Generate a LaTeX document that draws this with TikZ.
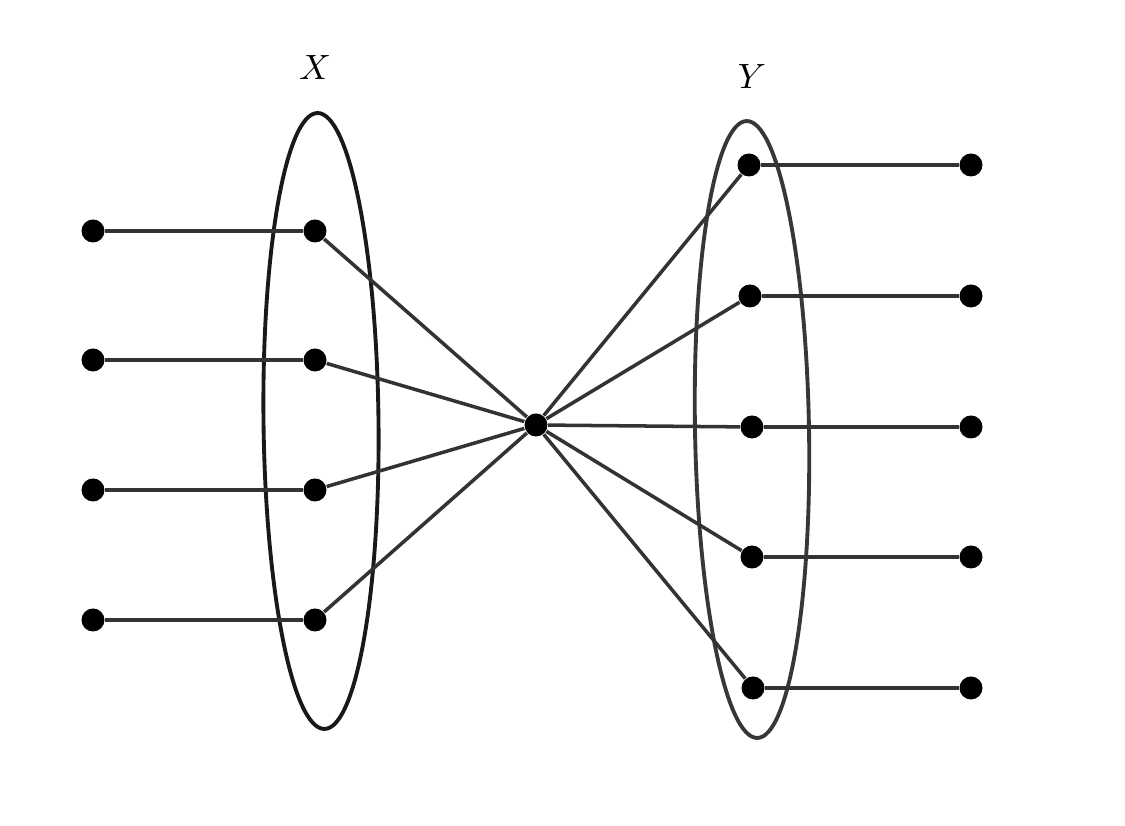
\documentclass[tikz,border=0pt]{standalone}
\usetikzlibrary{positioning,calc}
\definecolor{edgeC}{RGB}{51,51,51}
\definecolor{setXC}{RGB}{25,25,25}
\definecolor{setYC}{RGB}{55,55,55}
\tikzset{
	dot/.style={circle, fill=black, inner sep=0pt, minimum size=0.23cm},
	link/.style={draw=edgeC, line width=1pt},
	setring/.style={line width=1.1pt},
	setname/.style={font=\normalsize},
}

\begin{document}
\begin{tikzpicture}
		\useasboundingbox (0,0) rectangle (11.25,8.26);
		
		% ================= Sets =================
		\draw[setring, setXC] (3.21,4.05) ellipse[x radius=0.575, y radius=3.08, rotate=0.65];
		\draw[setring, setYC] (7.52,3.965) ellipse[x radius=0.57, y radius=3.085, rotate=1];
		\node[setname] (labX) at (3.15,7.58) {$X$};
		\node[setname] (labY) at (7.52,7.49) {$Y$};
		
		% ================= Centre =================
		\node[dot] (c) at (5.36,4.01) {};
		
		% ================= Left side =================
		\foreach \i/\y in {1/5.95,2/4.66,3/3.36,4/2.06}{
			\node[dot] (l\i) at (0.93,\y) {};
			\node[dot] (x\i) at (3.15,\y) {};
			\draw[link] (l\i) -- (x\i);
			\draw[link] (x\i) -- (c);
		}
		
		% ================= Right side =================
		\foreach \i/\x/\y in {1/7.49/6.61,2/7.50/5.30,3/7.52/3.99,4/7.52/2.69,5/7.53/1.38}{
			\node[dot] (y\i) at (\x,\y) {};
			\node[dot] (r\i) at (9.71,\y) {};
			\draw[link] (y\i) -- (r\i);
			\draw[link] (c) -- (y\i);
		}
		
	\end{tikzpicture}
\end{document}
